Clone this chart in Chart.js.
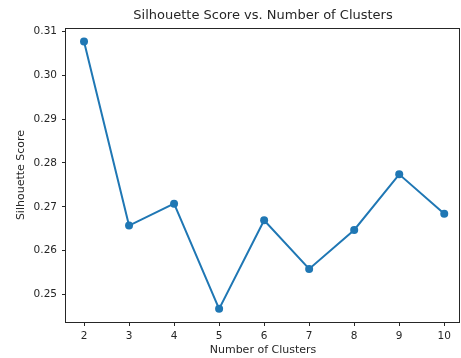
<!DOCTYPE html>
<html>
<head>
<meta charset="utf-8">
<title>Silhouette Score vs. Number of Clusters</title>
<script src="https://cdn.jsdelivr.net/npm/chart.js"></script>
<style>
  html, body { margin: 0; padding: 0; background: #fff; }
  canvas { display: block; }
</style>
</head>
<body>
<canvas id="silhouetteChart" width="461" height="358"></canvas>
<script>
const clusters = [2, 3, 4, 5, 6, 7, 8, 9, 10];
const silhouette = [0.3077, 0.2657, 0.2707, 0.2467, 0.2669, 0.2558, 0.2647, 0.2774, 0.2684];
const yTicks = [0.25, 0.26, 0.27, 0.28, 0.29, 0.30, 0.31];
const chartTitle = "Silhouette Score vs. Number of Clusters";

const ink = "#262626";
const lineBlue = "#1f77b4";

// matplotlib-like frame (all four spines over the data) and a title
// centred on the plot area rather than the whole canvas
const frame = {
  id: "frame",
  afterDatasetsDraw(chart) {
    const { ctx, chartArea: a } = chart;
    ctx.save();
    ctx.strokeStyle = ink;
    ctx.lineWidth = 1;
    ctx.strokeRect(Math.round(a.left) - 0.5, Math.round(a.top) + 0.5,
      Math.round(a.right) - Math.round(a.left), Math.round(a.bottom) - Math.round(a.top));
    ctx.restore();
  },
  afterDraw(chart) {
    const { ctx, chartArea: a } = chart;
    ctx.save();
    ctx.fillStyle = ink;
    ctx.font = "13px 'DejaVu Sans'";
    ctx.textAlign = "center";
    ctx.textBaseline = "middle";
    ctx.fillText(chartTitle, (a.left + a.right) / 2, 16);
    ctx.restore();
  }
};

document.addEventListener("DOMContentLoaded", () => {
  const ctx = document.getElementById("silhouetteChart").getContext("2d");

  new Chart(ctx, {
    type: "line",
    data: {
      datasets: [{
        label: "Silhouette Score",
        data: clusters.map((k, i) => ({ x: k, y: silhouette[i] })),
        borderColor: lineBlue,
        backgroundColor: lineBlue,
        borderWidth: 2,
        pointRadius: 4,
        pointBackgroundColor: lineBlue,
        pointBorderColor: lineBlue,
        pointBorderWidth: 0,
        tension: 0,
        fill: false
      }]
    },
    options: {
      responsive: false,
      animation: false,
      clip: false,
      layout: { autoPadding: false, padding: { left: 0, right: 1, top: 28, bottom: 0 } },
      plugins: {
        legend: { display: false },
        tooltip: { enabled: false },
        title: { display: false }
      },
      scales: {
        x: {
          type: "linear",
          min: 1.6,
          max: 10.35,
          afterBuildTicks: s => { s.ticks = clusters.map(v => ({ value: v })); },
          afterFit: s => { s.height = 36; s.paddingLeft = 0; s.paddingRight = 0; },
          border: { display: false },
          grid: { drawOnChartArea: false, drawTicks: true, tickLength: 4, color: ink },
          ticks: {
            color: ink,
            padding: 4,
            maxRotation: 0,
            font: { family: "DejaVu Sans", size: 10.5 },
            callback: v => String(v)
          },
          title: {
            display: true,
            text: "Number of Clusters",
            color: ink,
            font: { family: "DejaVu Sans", size: 11 },
            padding: { top: 0, bottom: 1 }
          }
        },
        y: {
          min: 0.2437,
          max: 0.3108,
          afterBuildTicks: s => { s.ticks = yTicks.map(v => ({ value: v })); },
          afterFit: s => { s.width = 66; s.paddingTop = 0; s.paddingBottom = 0; },
          border: { display: false },
          grid: { drawOnChartArea: false, drawTicks: true, tickLength: 4, color: ink },
          ticks: {
            color: ink,
            padding: 5,
            font: { family: "DejaVu Sans", size: 10.5 },
            callback: v => Number(v).toFixed(2)
          },
          title: {
            display: true,
            text: "Silhouette Score",
            color: ink,
            font: { family: "DejaVu Sans", size: 11 },
            padding: { top: 15, bottom: 0 }
          }
        }
      }
    },
    plugins: [frame]
  });
});
</script>
</body>
</html>
